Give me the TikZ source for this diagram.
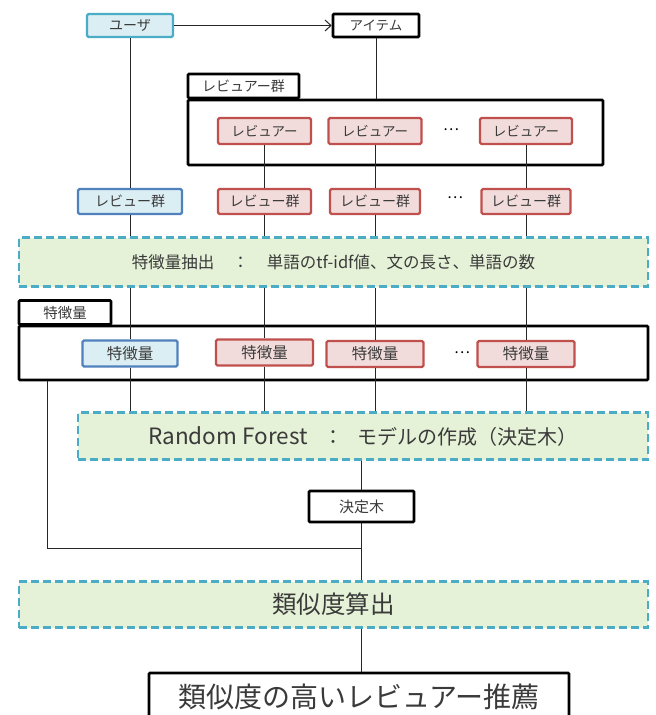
\documentclass[tikz,border=0pt]{standalone}
\usepackage{fontspec}
\setmainfont{Noto Sans CJK JP}
\usetikzlibrary{arrows.meta}
\definecolor{tealb}{HTML}{4BACC6}
\definecolor{bluefill}{HTML}{DBEEF4}
\definecolor{blueb}{HTML}{4F81BD}
\definecolor{redfill}{HTML}{F2DCDB}
\definecolor{redb}{HTML}{C0504D}
\definecolor{greenfill}{HTML}{E5F2D7}
\definecolor{txt}{HTML}{3A3A3A}
\begin{document}
\begin{tikzpicture}[x=1pt,y=-1pt,
 box/.style={rectangle, rounded corners=1.5pt, inner sep=0pt, line width=2.4pt, text=txt, font=\fontsize{13.5}{13.5}\selectfont},
 userbox/.style={box, draw=tealb, fill=bluefill},
 bluebox/.style={box, draw=blueb, fill=bluefill},
 redbox/.style={box, draw=redb, fill=redfill},
 blackbox/.style={box, draw=black, fill=white, line width=2.6pt, rounded corners=1pt},
 dashbox/.style={rectangle, draw=tealb, fill=greenfill, line width=2.4pt, dash pattern=on 8pt off 4pt, inner sep=0pt, text=txt},
 conn/.style={line width=1pt, draw=black!85},
 dotsn/.style={inner sep=0pt, text=black, font=\fontsize{15}{15}\selectfont},
]
\useasboundingbox (0,0) rectangle (656,715);
\clip (0,0) rectangle (656,715);

% big container boxes
\node[blackbox, minimum width=111pt, minimum height=24pt, font=\fontsize{14}{14}\selectfont] (rgtab) at (243.5,86) {レビュアー群};
\node[blackbox, minimum width=415pt, minimum height=65pt] (rgbig) at (395.5,132.5) {};
\node[blackbox, minimum width=92pt, minimum height=24pt, font=\fontsize{14.5}{14.5}\selectfont] (fttab) at (65,312.5) {特徴量};
\node[blackbox, minimum width=629pt, minimum height=54pt] (ftbig) at (333.5,353) {};

% dashed process boxes
\node[dashbox, minimum width=629pt, minimum height=49pt, font=\fontsize{16.5}{16.5}\selectfont] (fe) at (333.5,262) {特徴量抽出\hspace{18pt}：\hspace{18pt}単語のtf-idf値、文の長さ、単語の数};
\node[dashbox, minimum width=570pt, minimum height=47pt, font=\fontsize{20}{20}\selectfont] (rf) at (363,436) {{\fontsize{22.5}{22.5}\selectfont Random Forest}\hspace{16pt}：\hspace{14pt}モデルの作成（決定木）};
\node[dashbox, minimum width=629pt, minimum height=46pt, font=\fontsize{24.5}{24.5}\selectfont] (sim) at (333.5,604.5) {類似度算出};

% top nodes
\node[userbox, minimum width=86pt, minimum height=23pt, font=\fontsize{14}{14}\selectfont] (user) at (130,25.5) {ユーザ};
\node[blackbox, minimum width=86pt, minimum height=23pt] (item) at (376,25.5) {アイテム};

% reviewers
\node[redbox, minimum width=93pt, minimum height=26pt] (r1) at (264.5,131) {レビュアー};
\node[redbox, minimum width=93pt, minimum height=26pt] (r2) at (375,131) {レビュアー};
\node[redbox, minimum width=92pt, minimum height=26pt] (r3) at (526,131) {レビュアー};
\node[dotsn] (d1) at (451,130) {…};

% review groups
\node[bluebox, minimum width=104pt, minimum height=25pt, font=\fontsize{14}{14}\selectfont] (g0) at (130,201.5) {レビュー群};
\node[redbox, minimum width=93pt, minimum height=25pt, font=\fontsize{14}{14}\selectfont] (g1) at (264.5,201.5) {レビュー群};
\node[redbox, minimum width=90pt, minimum height=25pt, font=\fontsize{14}{14}\selectfont] (g2) at (375,201.5) {レビュー群};
\node[redbox, minimum width=89pt, minimum height=25pt, font=\fontsize{14}{14}\selectfont] (g3) at (526,201.5) {レビュー群};
\node[dotsn] (d2) at (455,198) {…};

% features
\node[bluebox, minimum width=95pt, minimum height=26pt, font=\fontsize{15.5}{15.5}\selectfont] (f0) at (130,353.5) {特徴量};
\node[redbox, minimum width=97pt, minimum height=26pt, font=\fontsize{15.5}{15.5}\selectfont] (f1) at (264.5,352.5) {特徴量};
\node[redbox, minimum width=97pt, minimum height=26pt, font=\fontsize{15.5}{15.5}\selectfont] (f2) at (375,354) {特徴量};
\node[redbox, minimum width=97pt, minimum height=26pt, font=\fontsize{15.5}{15.5}\selectfont] (f3) at (526,354) {特徴量};
\node[dotsn] (d3) at (462,353) {…};

% decision tree and result
\node[blackbox, minimum width=105pt, minimum height=31pt, font=\fontsize{15}{15}\selectfont] (dt) at (361.5,506.5) {決定木};
\node[blackbox, minimum width=420pt, minimum height=48pt, font=\fontsize{28}{28}\selectfont] (res) at (359,697) {類似度の高いレビュアー推薦};

\coordinate (lb) at (47,381);
\coordinate (jn) at (361.5,548);

% connectors
\draw[conn, -{Straight Barb[length=6pt,width=11pt,line width=1pt]}] (user.east) -- (item.west);
\draw[conn] (item.south) -- (item.south |- rgbig.north);
\draw[conn] (user.south) -- (g0.north);
\draw[conn] (r1.south) -- (g1.north);
\draw[conn] (r2.south) -- (g2.north);
\draw[conn] (r3.south) -- (g3.north);
\foreach \g in {g0,g1,g2,g3} \draw[conn] (\g.south) -- (\g.south |- fe.north);
\draw[conn] (f0.north |- fe.south) -- (f0.north);
\draw[conn] (f1.north |- fe.south) -- (f1.north);
\draw[conn] (f2.north |- fe.south) -- (f2.north);
\draw[conn] (f3.north |- fe.south) -- (f3.north);
\foreach \f in {f0,f1,f2,f3} \draw[conn] (\f.south) -- (\f.south |- rf.north);
\draw[conn] (dt.north |- rf.south) -- (dt.north);
\draw[conn] (dt.south) -- (dt.south |- sim.north);
\draw[conn] (lb) |- (jn);
\draw[conn] (dt.south |- sim.south) -- (dt.south |- res.north);
\end{tikzpicture}
\end{document}
